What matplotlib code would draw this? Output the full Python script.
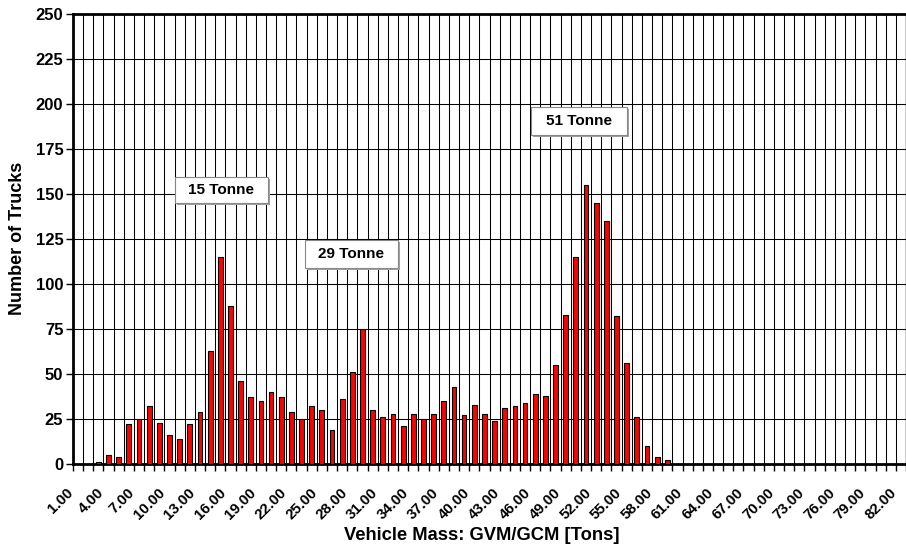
import matplotlib
matplotlib.use("Agg")
import matplotlib.pyplot as plt
from matplotlib.patches import Rectangle
import matplotlib.transforms as mtransforms
import numpy as np

plt.rcParams['font.family'] = ['Liberation Sans', 'DejaVu Sans']

# ---- data ----
mass_tons = list(range(1, 83))
truck_counts = [0, 0, 1, 5, 4, 22, 25, 32, 23, 16,
                14, 22, 29, 63, 115, 88, 46, 37, 35, 40,
                37, 29, 25, 32, 30, 19, 36, 51, 75, 30,
                26, 28, 21, 28, 25, 28, 35, 43, 27, 33,
                28, 24, 31, 32, 34, 39, 38, 55, 83, 115,
                155, 145, 135, 82, 56, 26, 10, 4, 2, 0,
                0, 0, 0, 0, 0, 0, 0, 0, 0, 0,
                0, 0, 0, 0, 0, 0, 0, 0, 0, 0,
                0, 0]
tick_labels = [f"{m:.2f}" for m in mass_tons[::3]]
y_ticks = [0, 25, 50, 75, 100, 125, 150, 175, 200, 225, 250]
annotations = ["15 Tonne", "29 Tonne", "51 Tonne"]

W, H = 906, 551
fig = plt.figure(figsize=(W / 100, H / 100), dpi=100)
ax = fig.add_axes([73 / W, 1 - 464 / H, (906 - 73) / W, (464 - 14) / H])

n = len(mass_tons)
pos = np.arange(n)
ax.bar(pos, truck_counts, width=0.47, color='#ff0000', edgecolor='black',
       linewidth=0.8, zorder=3)

ax.set_xlim(-0.5, n - 0.5)
ax.set_ylim(0, 250)

# gridlines at category boundaries
ax.set_xticks(np.arange(n + 1) - 0.5)
ax.set_xticklabels([])
ax.tick_params(axis='x', which='major', length=5, width=1, direction='out', color='black')
ax.set_xticks(pos[::3], minor=True)
ax.set_xticklabels(tick_labels, minor=True, rotation=45, ha='right', va='center',
                   rotation_mode='anchor', fontsize=10.8, fontweight='bold')
ax.tick_params(axis='x', which='minor', length=0, pad=19)
shift = mtransforms.ScaledTranslation(-7 / 100, 0, fig.dpi_scale_trans)
for lab in ax.get_xticklabels(minor=True):
    lab.set_transform(lab.get_transform() + shift)

ax.set_yticks(y_ticks)
ax.set_yticklabels([str(v) for v in y_ticks], fontsize=12, fontweight='bold')
ax.tick_params(axis='y', length=5, width=1, pad=2)

ax.grid(True, which='major', color='black', linewidth=0.75, zorder=0)
ax.set_axisbelow(True)

for s in ['left', 'bottom', 'top']:
    ax.spines[s].set_linewidth(2)
ax.spines['right'].set_linewidth(1)

fig.text(17.5 / W, 1 - 238 / H, "Number of Trucks", rotation=90, ha='center', va='center',
         fontsize=13, fontweight='bold')
fig.text(482 / W, 1 - 536 / H, "Vehicle Mass: GVM/GCM [Tons]", ha='center', va='center',
         fontsize=13.2, fontweight='bold')

# annotation boxes (layout in data coords)
boxes = [(9.54, 145.0, 18.69, 159.4), (22.33, 108.9, 31.49, 124.4), (44.58, 182.8, 54.03, 198.3)]
dx, dy = 2 / 10.16, 2 / 1.8
for txt, (x0, y0, x1, y1) in zip(annotations, boxes):
    ax.add_patch(Rectangle((x0 + dx, y0 - dy), x1 - x0, y1 - y0, facecolor='#a0a0a0',
                           edgecolor='none', zorder=5))
    ax.add_patch(Rectangle((x0, y0), x1 - x0, y1 - y0, facecolor='white',
                           edgecolor='#888888', linewidth=0.8, zorder=6))
    ax.text((x0 + x1) / 2, (y0 + y1) / 2, txt, ha='center', va='center',
            fontsize=11, fontweight='bold', zorder=7)

fig.savefig("out.png", dpi=100)
